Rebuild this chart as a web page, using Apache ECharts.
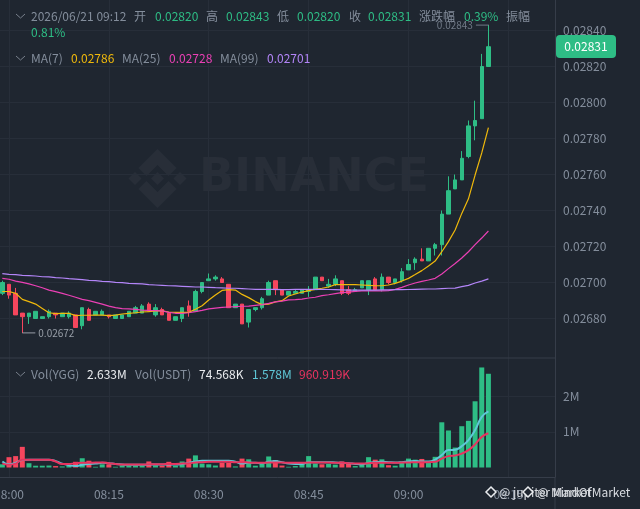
<!DOCTYPE html>
<html><head><meta charset="utf-8">
<style>html,body{margin:0;padding:0;background:#1f2630}#c{width:640px;height:509px}</style>
<script src="https://cdn.jsdelivr.net/npm/echarts@6/dist/echarts.min.js"></script>
</head><body><div id="c"></div>
<script>
const times=["07:58","07:59","08:00","08:01","08:02","08:03","08:04","08:05","08:06","08:07","08:08","08:09","08:10","08:11","08:12","08:13","08:14","08:15","08:16","08:17","08:18","08:19","08:20","08:21","08:22","08:23","08:24","08:25","08:26","08:27","08:28","08:29","08:30","08:31","08:32","08:33","08:34","08:35","08:36","08:37","08:38","08:39","08:40","08:41","08:42","08:43","08:44","08:45","08:46","08:47","08:48","08:49","08:50","08:51","08:52","08:53","08:54","08:55","08:56","08:57","08:58","08:59","09:00","09:01","09:02","09:03","09:04","09:05","09:06","09:07","09:08","09:09","09:10","09:11","09:12","09:13","09:14","09:15","09:16","09:17","09:18","09:19","09:20","09:21","09:22"];
// open, close, low, high
const candles=[
[.02694,.02700,.02693,.02701],[.02699,.02693,.02691,.02699],[.02694,.02682,.02682,.02697],[.02683,.02681,.02672,.02683],
[.02681,.02683,.02677,.02683],[.02680,.02684,.02680,.02684],[.02680,.02681,.02680,.02681],[.02681,.02684,.02680,.02685],
[.02683,.02682,.02680,.02683],[.02681,.02683,.02681,.02683],[.02681,.02683,.02680,.02684],[.02682,.02675,.02675,.02682],
[.02676,.02686,.02674,.02686],[.02685,.02679,.02679,.02686],[.02682,.02684,.02682,.02684],[.02682,.02684,.02682,.02685],
[.02682,.02681,.02680,.02682],[.02680,.02682,.02680,.02682],[.02680,.02682,.02680,.02682],[.02681,.02684,.02681,.02684],
[.02683,.02686,.02683,.02687],[.02683,.02687,.02683,.02688],[.02688,.02684,.02684,.02689],[.02682,.02686,.02681,.02688],
[.02685,.02682,.02682,.02686],[.02683,.02679,.02679,.02683],[.02679,.02681,.02679,.02681],[.02680,.02686,.02678,.02686],
[.02687,.02684,.02681,.02690],[.02684,.02695,.02684,.02696],[.02695,.02700,.02694,.02700],[.02701,.02702,.02701,.02705],
[.02702,.02703,.02701,.02704],[.02702,.02700,.02700,.02703],[.02699,.02686,.02686,.02699],[.02686,.02688,.02686,.02688],
[.02688,.02677,.02677,.02688],[.02678,.02685,.02675,.02685],[.02685,.02686,.02684,.02686],[.02686,.02691,.02685,.02692],
[.02693,.02700,.02693,.02701],[.02701,.02696,.02693,.02701],[.02696,.02693,.02693,.02696],[.02693,.02695,.02693,.02695],
[.02694,.02695,.02694,.02696],[.02694,.02696,.02694,.02696],[.02695,.02696,.02692,.02698],[.02696,.02703,.02696,.02703],
[.02703,.02701,.02701,.02703],[.02698,.02699,.02697,.02702],[.02699,.02702,.02698,.02704],[.02701,.02694,.02693,.02701],
[.02696,.02694,.02693,.02698],[.02695,.02696,.02695,.02697],[.02697,.02701,.02697,.02701],[.02696,.02701,.02693,.02701],
[.02702,.02696,.02696,.02703],[.02696,.02703,.02695,.02705],[.02703,.02700,.02699,.02703],[.02700,.02702,.02699,.02702],
[.02701,.02706,.02700,.02708],[.02707,.02710,.02707,.02713],[.02711,.02713,.02707,.02714],[.02713,.02712,.02712,.02719],
[.02712,.02719,.02712,.02719],[.02719,.02721,.02715,.02722],[.02721,.02738,.02715,.02740],[.02738,.02751,.02738,.02759],
[.02752,.02757,.02752,.02760],[.02757,.02769,.02757,.02773],[.02770,.02787,.02769,.02790],[.02787,.02790,.02779,.02801],
[.02791,.02820,.02791,.02827],[.02820,.02831,.02820,.02843]];
const ma7=[.026950,.026950,.026940,.026906,.026894,.026880,.026856,.026832,.026827,.026829,.026829,.026816,.026818,.026818,.026819,.026819,.026816,.026819,.026825,.026829,.026832,.026836,.026838,.026842,.026842,.026836,.026834,.026834,.026834,.026851,.026871,.026903,.026931,.026956,.026960,.026958,.026934,.026916,.026894,.026877,.026880,.026892,.026899,.026925,.026936,.026947,.026955,.026962,.026968,.026975,.026988,.026988,.026988,.026988,.026986,.026984,.026982,.026982,.026986,.026995,.027008,.027023,.027044,.027066,.027092,.027119,.027171,.027227,.027292,.027384,.027465,.027597,.027720,.027860];
const ma25=[.027023,.027018,.027008,.027001,.026992,.026982,.026971,.026958,.026949,.026940,.026929,.026918,.026906,.026899,.026890,.026880,.026869,.026860,.026855,.026853,.026851,.026847,.026845,.026844,.026842,.026834,.026829,.026829,.026832,.026838,.026845,.026853,.026858,.026862,.026864,.026866,.026868,.026869,.026873,.026877,.026884,.026892,.026897,.026903,.026905,.026908,.026914,.026918,.026927,.026932,.026938,.026944,.026947,.026951,.026953,.026953,.026953,.026953,.026955,.026962,.026973,.026986,.026997,.027006,.027014,.027023,.027047,.027077,.027106,.027136,.027171,.027210,.027247,.027286];
const ma99=[.027049,.027045,.027044,.027040,.027038,.027036,.027032,.027031,.027027,.027025,.027021,.027019,.027016,.027012,.027010,.027006,.027005,.027001,.026999,.026995,.026994,.026992,.026988,.026986,.026984,.026982,.026981,.026979,.026977,.026975,.026975,.026973,.026971,.026970,.026968,.026968,.026966,.026964,.026962,.026962,.026962,.026962,.026960,.026960,.026962,.026962,.026962,.026962,.026962,.026961,.026960,.026959,.026958,.026958,.026958,.026958,.026958,.026959,.026959,.026960,.026960,.026961,.026962,.026963,.026964,.026964,.026966,.026968,.026969,.026977,.026984,.026997,.027008,.027020];
const volumes=[.09,.29,.32,.58,.12,.05,.05,.055,.04,.03,.055,.16,.26,.19,.02,.09,.09,.02,.055,.05,.05,.05,.17,.06,.05,.16,.05,.17,.25,.34,.11,.09,.055,.13,.13,.03,.25,.23,.05,.11,.31,.21,.055,.02,.04,.09,.32,.11,.09,.10,.08,.17,.11,.04,.09,.29,.22,.23,.065,.05,.16,.25,.22,.24,.18,.30,1.27,1.04,.56,1.16,1.31,1.86,2.81,2.633];
const volMaBase=[.17,.09,.13,.21,.215,.215,.215,.215,.18,.11,.065,.04,.075,.10,.11,.13,.12,.10,.085,.075,.075,.075,.085,.085,.085,.085,.085,.10,.13,.17,.19,.19,.19,.19,.19,.16,.11,.14,.13,.12,.16,.18,.15,.11,.10,.10,.15,.15,.15,.15,.14,.13,.12,.10,.09,.13,.15,.16,.15,.14,.15,.17,.18,.17,.17,.22,.35,.49,.50,.60,.77,1.05,1.42,1.578];
const volMaQuote=[.11,.08,.11,.22,.22,.22,.22,.22,.17,.10,.10,.12,.13,.13,.14,.14,.12,.10,.085,.085,.085,.085,.09,.09,.09,.10,.10,.11,.12,.14,.15,.16,.16,.16,.16,.15,.15,.14,.13,.13,.14,.14,.14,.13,.13,.13,.14,.14,.14,.14,.13,.13,.12,.11,.11,.12,.13,.13,.13,.13,.14,.14,.15,.15,.15,.16,.25,.32,.34,.39,.49,.65,.86,.961];
const priceTicks={min:.0268,max:.0284,step:.0002};
const volTicks={min:0,max:3,step:1};
const lowMark=['08:02',.02672];
const highMark=['09:12',.02843];

const UP='#2ebd85',DOWN='#f6465d',TXT='#848e9c',GRID='#272e39',LINE='#363d49',WM='#282e38',FONT='"Noto Sans CJK SC","Noto Sans",sans-serif';
const withLead=a=>['-'].concat(a);
const left=-4.33,width=559.33;
const chart=echarts.init(document.getElementById('c'),null,{renderer:'canvas'});
const hideX=(g)=>({type:'category',gridIndex:g,data:times,show:false,boundaryGap:false});
const line=(name,data,color,x,y,w,smooth)=>({name,type:'line',data:withLead(data),xAxisIndex:x,yAxisIndex:y,showSymbol:false,smooth:smooth||false,clip:false,silent:true,lineStyle:{color,width:w},itemStyle:{color},z:5});
const chev=(x,y)=>({type:'polyline',silent:true,shape:{points:[[x,y],[x+4.5,y+4],[x+9,y]]},style:{stroke:'#78808c',lineWidth:1,fill:null},z:20});
const txt=(x,y,text,fill,extra)=>({type:'text',silent:true,z:20,x,y,style:Object.assign({text,fill:fill||TXT,font:'12px '+FONT,textVerticalAlign:'middle'},extra||{})});
const seq=(y,parts)=>parts.map(p=>txt(p[0],y,p[1],p[2]));
const diamond=(cx,cy,r)=>({type:'polygon',silent:true,shape:{points:[[cx,cy-r],[cx+r,cy],[cx,cy+r],[cx-r,cy]]},style:{fill:WM},z:0});
const chevronUp=(cx,cy)=>({type:'polygon',silent:true,shape:{points:[[cx,cy-19],[cx+19,cy],[cx+11,cy+8],[cx,cy-3],[cx-11,cy+8],[cx-19,cy]]},style:{fill:WM},z:0});
const chevronDown=(cx,cy)=>({type:'polygon',silent:true,shape:{points:[[cx,cy+19],[cx+19,cy],[cx+11,cy-8],[cx,cy+3],[cx-11,cy-8],[cx-19,cy]]},style:{fill:WM},z:0});
const extremum=(name,point,color,side)=>({name,type:'scatter',xAxisIndex:0,yAxisIndex:0,data:[point],clip:false,silent:true,z:6,
  symbol:'rect',symbolSize:[13,1],symbolOffset:side==='right'?[6.5,0]:[-6,0],itemStyle:{color},
  label:{show:true,position:side,distance:3,formatter:p=>p.value[1].toFixed(5),color,fontSize:10,fontFamily:FONT}});
const gridBase={left,width,outerBoundsMode:'none',containLabel:false};
const opt={
 animation:false,backgroundColor:'#1f2630',textStyle:{fontFamily:FONT},
 grid:[Object.assign({top:30.5,height:288},gridBase),Object.assign({top:360.7,height:106.8},gridBase),Object.assign({top:0,height:477},gridBase)],
 xAxis:[hideX(0),hideX(1),{type:'category',gridIndex:2,data:times,boundaryGap:false,
   axisLine:{show:true,lineStyle:{color:LINE,width:1}},axisTick:{show:false},
   axisLabel:{color:TXT,fontSize:12,fontFamily:FONT,margin:11,hideOverlap:false,interval:(i,v)=>/:(00|15|30|45)$/.test(v)},
   splitLine:{show:true,interval:(i,v)=>/:(00|15|30|45)$/.test(v),lineStyle:{color:GRID,width:1}}}],
 yAxis:[
  {type:'value',gridIndex:0,position:'right',min:priceTicks.min,max:priceTicks.max,interval:priceTicks.step,axisLine:{show:false},axisTick:{show:false},
   axisLabel:{color:TXT,fontSize:12,fontFamily:FONT,margin:8,formatter:v=>v.toFixed(5)},splitLine:{show:true,lineStyle:{color:GRID,width:1}}},
  {type:'value',gridIndex:1,position:'right',min:volTicks.min,max:volTicks.max,interval:volTicks.step,axisLine:{show:false},axisTick:{show:false},
   axisLabel:{color:TXT,fontSize:12,fontFamily:FONT,margin:8,formatter:v=>(v===1||v===2)?v+'M':''},splitLine:{show:true,showMinLine:false,showMaxLine:false,lineStyle:{color:GRID,width:1}}},
  {type:'value',gridIndex:2,position:'right',min:0,max:1,axisLine:{show:true,lineStyle:{color:LINE,width:1}},axisTick:{show:false},axisLabel:{show:false},splitLine:{show:false}}
 ],
 series:[
  {name:'K',type:'candlestick',xAxisIndex:0,yAxisIndex:0,data:withLead(candles),barWidth:4,clip:false,silent:true,z:3,
   itemStyle:{color:UP,color0:DOWN,borderColor:UP,borderColor0:DOWN,borderColorDoji:UP,borderWidth:1}},
  extremum('low',lowMark,'#b7bdc6','right'),extremum('high',highMark,'#848e9c','left'),
  line('MA7',ma7,'#f0b90b',0,0,1.2),line('MA25',ma25,'#eb40b5',0,0,1.2),line('MA99',ma99,'#b385f8',0,0,1.2),
  {name:'Vol',type:'bar',xAxisIndex:1,yAxisIndex:1,barWidth:5,clip:false,silent:true,z:3,
   data:['-'].concat(volumes.map((v,i)=>({value:v,itemStyle:{color:candles[i][1]>=candles[i][0]?UP:DOWN}})))},
  line('VolMA1',volMaBase,'#5fc8d8',1,1,2,true),line('VolMA2',volMaQuote,'#e8335f',1,1,2,true)
 ],
 graphic:[
  diamond(157.5,178.5,6.5),diamond(135,178.5,6.5),diamond(180,178.5,6.5),chevronUp(157.5,168),chevronDown(157.5,189),
  {type:'text',silent:true,z:0,x:199,y:179.5,style:{text:'BINANCE',fill:WM,font:'bold 46px "DejaVu Sans"',textVerticalAlign:'middle'}},
  {type:'line',silent:true,z:4,shape:{x1:0,y1:358,x2:555,y2:358},style:{stroke:LINE,lineWidth:1}},
  {type:'line',silent:true,z:4,shape:{x1:555,y1:477,x2:555,y2:509},style:{stroke:LINE,lineWidth:1}},
  chev(16,14),chev(16,56),chev(16,372),
  ...seq(16,[[31,'2026/06/21 09:12'],[134,'开'],[155,'0.02820',UP],[206,'高'],[226,'0.02843',UP],[277,'低'],[297,'0.02820',UP],[349,'收'],[368,'0.02831',UP],[419,'涨跌幅'],[464,'0.39%',UP],[506,'振幅']]),
  txt(31,32,'0.81%',UP),
  ...seq(58,[[31,'MA(7)'],[71,'0.02786','#f0b90b'],[122,'MA(25)'],[169,'0.02728','#eb40b5'],[220,'MA(99)'],[267,'0.02701','#b385f8']]),
  ...seq(374,[[31,'Vol(YGG)'],[87,'2.633M','#eaecef'],[135,'Vol(USDT)'],[199,'74.568K','#eaecef'],[252,'1.578M','#5fc8d8'],[299,'960.919K','#e8335f']]),
  {type:'rect',silent:true,z:20,shape:{x:556,y:35,width:60,height:23,r:4},style:{fill:'#2ebd85'}},
  txt(586,46.5,'0.02831','#ffffff',{textAlign:'center'}),
  txt(499,492,'@ jupiter Market','#d8dbe0'),
  txt(537,492,'@ MindOfMarket','#d8dbe0'),
  {type:'polygon',silent:true,z:20,shape:{points:[[491,487],[496,492],[491,497],[486,492]]},style:{fill:'#1f2630',stroke:'#eaecef',lineWidth:1.5}},
  {type:'polygon',silent:true,z:20,shape:{points:[[528,487],[533,492],[528,497],[523,492]]},style:{fill:'#1f2630',stroke:'#eaecef',lineWidth:1.5}}
 ]
};
chart.setOption(opt);
</script></body></html>
